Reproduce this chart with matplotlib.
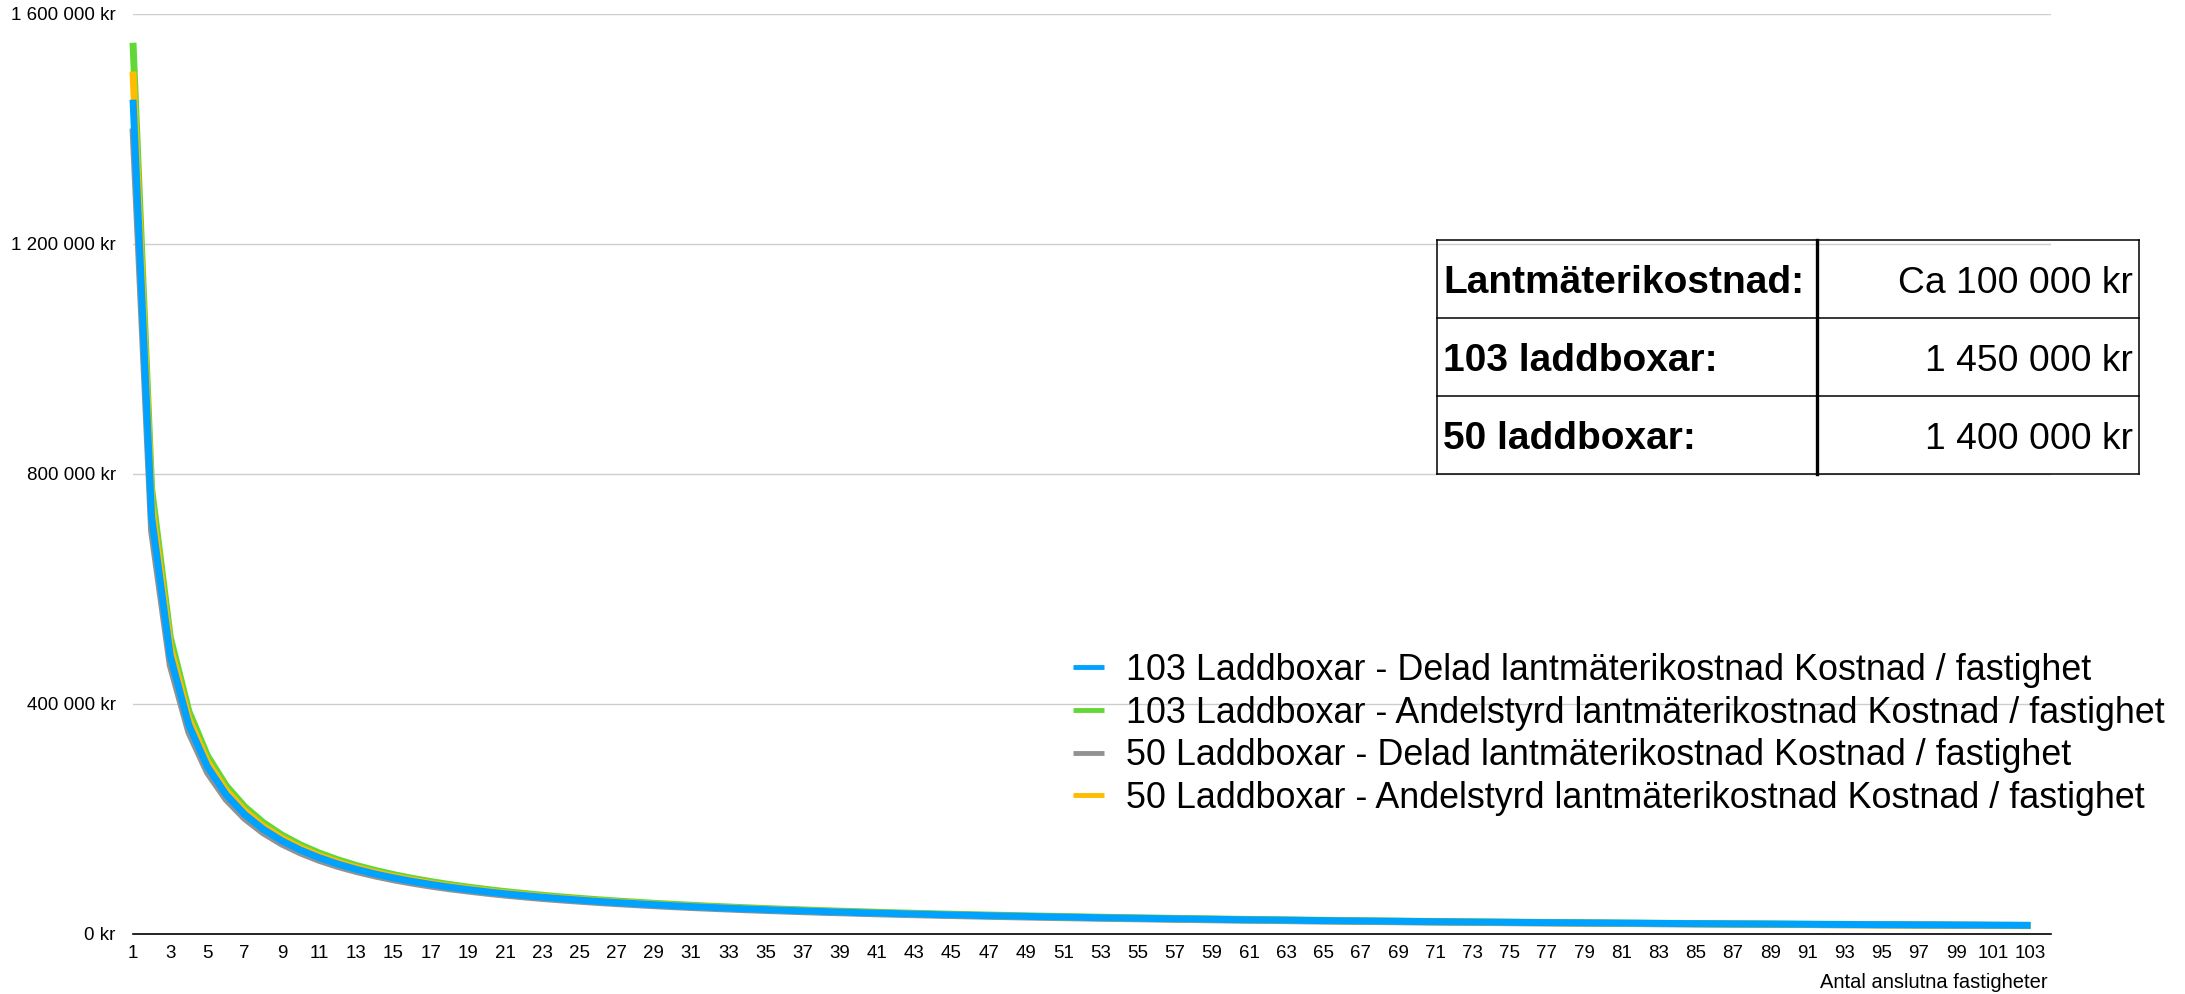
import numpy as np
import matplotlib.pyplot as plt
from matplotlib.ticker import FuncFormatter

plt.rcParams['font.family'] = ['Liberation Sans', 'DejaVu Sans']

# antal anslutna fastigheter (kategorier)
fastigheter = list(range(1, 104))

# kostnad / fastighet (kr)
laddbox103_delad = [
    1451000, 726000, 484300, 363500, 291000, 242600, 208100, 182200, 162100, 146000,
    132800, 121800, 112500, 104500, 97600, 91600, 86300, 81500, 77300, 73500,
    70000, 66900, 64000, 61400, 59000, 56700, 54700, 52800, 51000, 49300,
    47700, 46300, 44900, 43600, 42400, 41200, 40200, 39100, 38200, 37200,
    36300, 35500, 34700, 33900, 33200, 32500, 31800, 31200, 30600, 30000,
    29400, 28900, 28300, 27800, 27300, 26900, 26400, 26000, 25500, 25100,
    24700, 24400, 24000, 23600, 23300, 22900, 22600, 22300, 22000, 21700,
    21400, 21100, 20800, 20600, 20300, 20000, 19800, 19600, 19300, 19100,
    18900, 18700, 18400, 18200, 18000, 17800, 17600, 17400, 17300, 17100,
    16900, 16700, 16600, 16400, 16200, 16100, 15900, 15800, 15600, 15500,
    15300, 15200, 15000]

laddbox103_andel = [
    1550000, 775000, 516700, 387500, 310000, 258300, 221400, 193800, 172200, 155000,
    140900, 129200, 119200, 110700, 103300, 96900, 91200, 86100, 81600, 77500,
    73800, 70500, 67400, 64600, 62000, 59600, 57400, 55400, 53400, 51700,
    50000, 48400, 47000, 45600, 44300, 43100, 41900, 40800, 39700, 38800,
    37800, 36900, 36000, 35200, 34400, 33700, 33000, 32300, 31600, 31000,
    30400, 29800, 29200, 28700, 28200, 27700, 27200, 26700, 26300, 25800,
    25400, 25000, 24600, 24200, 23800, 23500, 23100, 22800, 22500, 22100,
    21800, 21500, 21200, 20900, 20700, 20400, 20100, 19900, 19600, 19400,
    19100, 18900, 18700, 18500, 18200, 18000, 17800, 17600, 17400, 17200,
    17000, 16800, 16700, 16500, 16300, 16100, 16000, 15800, 15700, 15500,
    15300, 15200, 15000]

laddbox50_delad = [
    1401000, 701000, 467600, 351000, 281000, 234300, 201000, 176000, 156500, 141000,
    128200, 117600, 108700, 101000, 94300, 88500, 83300, 78700, 74700, 71000,
    67600, 64600, 61800, 59300, 57000, 54800, 52800, 51000, 49200, 47600,
    46100, 44700, 43400, 42100, 41000, 39900, 38800, 37800, 36900, 36000,
    35100, 34300, 33500, 32800, 32100, 31400, 30800, 30100, 29500, 29000,
    28400, 27900, 27400, 26900, 26400, 26000, 25500, 25100, 24700, 24300,
    23900, 23600, 23200, 22800, 22500, 22200, 21900, 21600, 21300, 21000,
    20700, 20400, 20100, 19900, 19600, 19400, 19200, 18900, 18700, 18500,
    18300, 18000, 17800, 17600, 17400, 17300, 17100, 16900, 16700, 16500,
    16400, 16200, 16000, 15900, 15700, 15600, 15400, 15300, 15100, 15000,
    14800, 14700, 14600]

laddbox50_andel = [
    1500000, 750000, 500000, 375000, 300000, 250000, 214300, 187500, 166700, 150000,
    136400, 125000, 115400, 107100, 100000, 93800, 88200, 83300, 78900, 75000,
    71400, 68200, 65200, 62500, 60000, 57700, 55600, 53600, 51700, 50000,
    48400, 46900, 45500, 44100, 42900, 41700, 40500, 39500, 38500, 37500,
    36600, 35700, 34900, 34100, 33300, 32600, 31900, 31300, 30600, 30000,
    29400, 28800, 28300, 27800, 27300, 26800, 26300, 25900, 25400, 25000,
    24600, 24200, 23800, 23400, 23100, 22700, 22400, 22100, 21700, 21400,
    21100, 20800, 20500, 20300, 20000, 19700, 19500, 19200, 19000, 18800,
    18500, 18300, 18100, 17900, 17600, 17400, 17200, 17000, 16900, 16700,
    16500, 16300, 16100, 16000, 15800, 15600, 15500, 15300, 15200, 15000,
    14900, 14700, 14600]

serie_namn = [
    '103 Laddboxar - Delad lantmäterikostnad Kostnad / fastighet',
    '103 Laddboxar - Andelstyrd lantmäterikostnad Kostnad / fastighet',
    '50 Laddboxar - Delad lantmäterikostnad Kostnad / fastighet',
    '50 Laddboxar - Andelstyrd lantmäterikostnad Kostnad / fastighet',
]

tabell_rubrik = ['Lantmäterikostnad:', '103 laddboxar:', '50 laddboxar:']
tabell_varde = ['Ca 100 000 kr', '1 450 000 kr', '1 400 000 kr']

W, H = 2185, 994
fig = plt.figure(figsize=(W / 100, H / 100), dpi=100)
ax = fig.add_axes([133 / W, 1 - 934 / H, (2051 - 133) / W, (934 - 14) / H])

kw = dict(lw=5, solid_capstyle='butt', solid_joinstyle='round', clip_on=False)
l_gray, = ax.plot(fastigheter, laddbox50_delad, color='#929292', zorder=3, label=serie_namn[2], **kw)
l_green, = ax.plot(fastigheter, laddbox103_andel, color='#61D836', zorder=4, label=serie_namn[1], **kw)
l_orange, = ax.plot(fastigheter, laddbox50_andel, color='#FFBC00', zorder=5, label=serie_namn[3], **kw)
l_blue, = ax.plot(fastigheter, laddbox103_delad, color='#00A2FF', zorder=6, label=serie_namn[0], **kw)

ax.set_xlim(1, 104.1)
ax.set_ylim(0, 1600000)
ax.set_yticks(np.arange(0, 1600001, 400000))
ax.set_xticks(fastigheter[::2])
ax.yaxis.set_major_formatter(FuncFormatter(lambda v, p: f'{int(v):,}'.replace(',', ' ') + ' kr'))
ax.grid(axis='y', color='#cdcdcd', lw=1)
ax.set_axisbelow(True)
for s in ['top', 'right', 'left']:
    ax.spines[s].set_visible(False)
ax.spines['bottom'].set_color('black')
ax.spines['bottom'].set_linewidth(1.2)
ax.tick_params(axis='both', length=0, labelsize=13.5, colors='black')
ax.tick_params(axis='x', pad=8)
ax.tick_params(axis='y', pad=12.5)

fig.text(2048 / W, 1 - 983 / H, 'Antal anslutna fastigheter', ha='right', va='center', fontsize=14.5)

leg = ax.legend(handles=[l_blue, l_green, l_gray, l_orange], loc='upper left',
                bbox_to_anchor=(1073 / W, 1 - 653 / H), bbox_transform=fig.transFigure,
                frameon=False, fontsize=25.8, handlelength=0.86, handletextpad=0.63,
                labelspacing=0.21, borderpad=0, borderaxespad=0)
for h in leg.legend_handles:
    h.set_linewidth(3.5)

# tabell ovanpå diagrammet, i pixelkoordinater
ov = fig.add_axes([0, 0, 1, 1], zorder=10)
ov.set_xlim(0, W)
ov.set_ylim(H, 0)
ov.axis('off')
t_left, t_right, t_mid = 1437, 2139, 1817
rad_y = [240, 318, 396, 474]
for y in rad_y:
    ov.plot([t_left, t_right], [y, y], color='black', lw=1.1)
ov.plot([t_left, t_left], [rad_y[0], rad_y[-1]], color='black', lw=1.1)
ov.plot([t_right, t_right], [rad_y[0], rad_y[-1]], color='black', lw=1.1)
ov.plot([t_mid, t_mid], [rad_y[0], rad_y[-1]], color='black', lw=2.4)
baslinjer = [293, 371, 449]
for rub, val, yb in zip(tabell_rubrik, tabell_varde, baslinjer):
    ov.text(1443, yb, rub, ha='left', va='baseline', fontsize=28, fontweight='bold')
    ov.text(2133, yb, val, ha='right', va='baseline', fontsize=26.8)

fig.savefig('out.png', dpi=100)
